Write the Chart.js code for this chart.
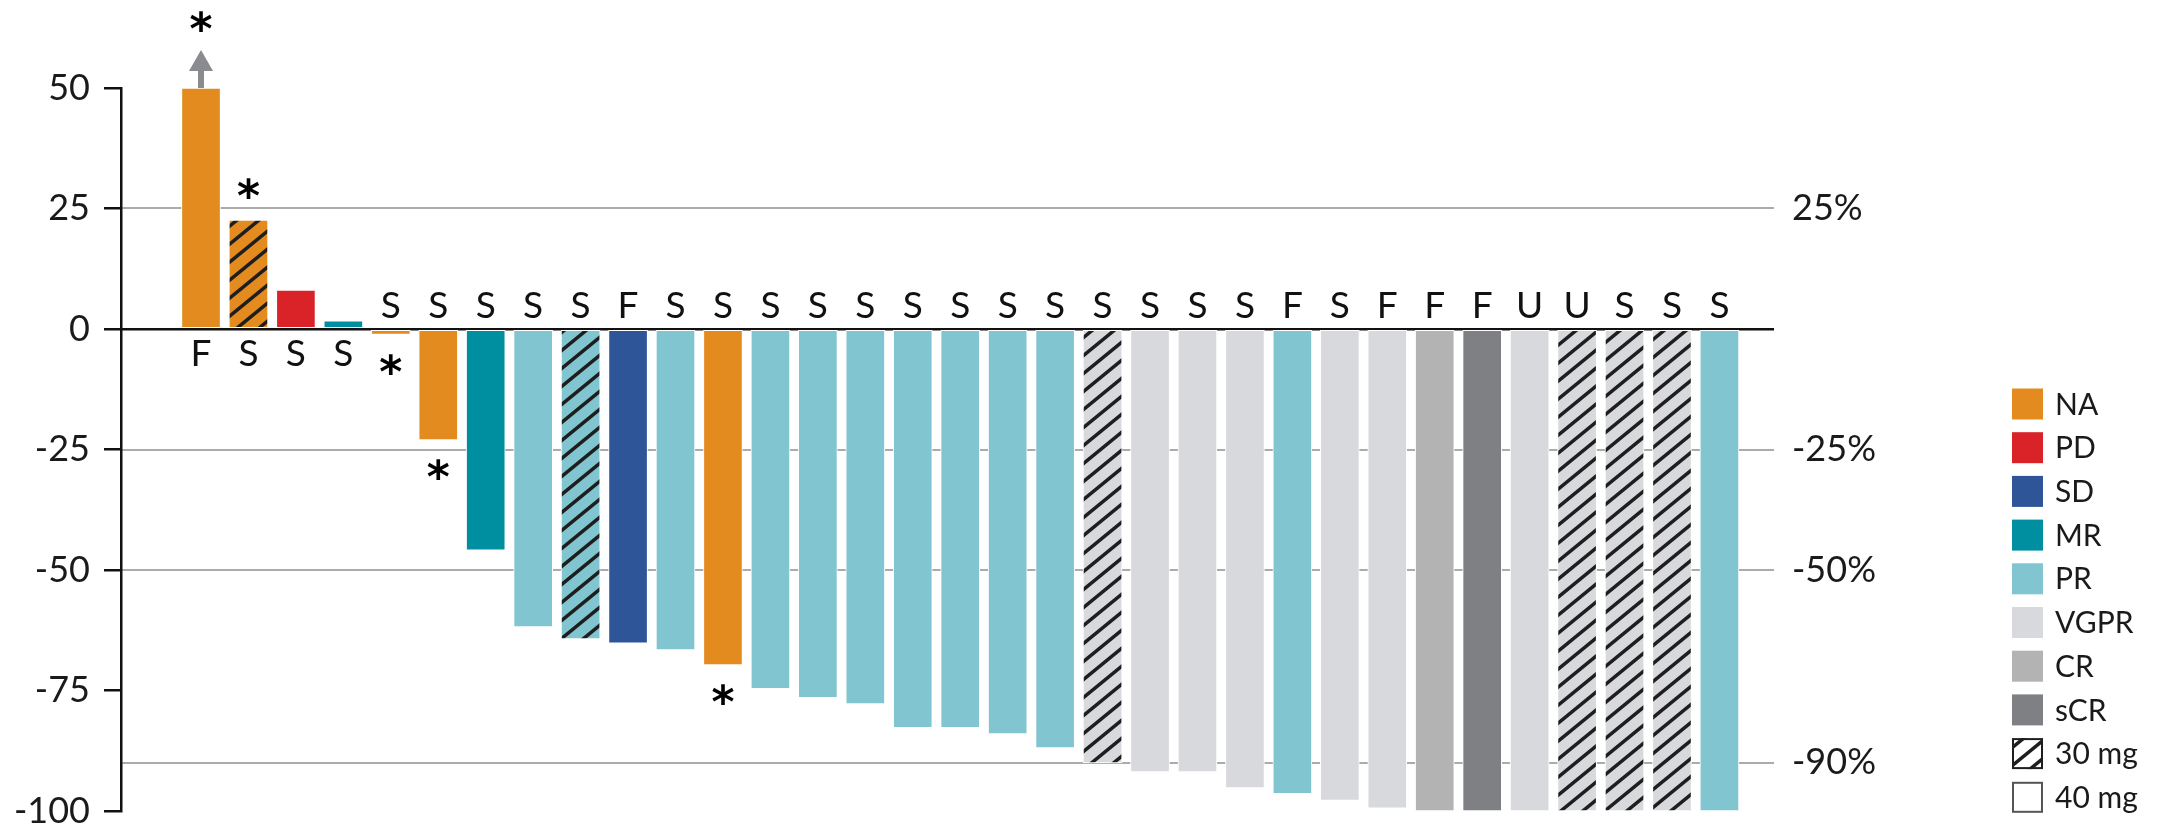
<!DOCTYPE html>
<html>
<head>
<meta charset="utf-8">
<script src="https://cdn.jsdelivr.net/npm/chart.js@4.4.1/dist/chart.umd.min.js"></script>
<style>
  html, body { margin: 0; padding: 0; background: #fff; overflow: hidden; }
  #wrap { width: 2169px; height: 823px; position: relative; }
</style>
</head>
<body>
<div id="wrap"><canvas id="chart" width="2169" height="823"></canvas></div>
<script>
// Best change from baseline (%) per patient, ordered as a waterfall
const changes = [50, 22.6, 8.1, 1.7, -1.1, -23, -45.9, -61.8, -64.3, -65.2, -66.6, -69.7,
  -74.6, -76.5, -77.8, -82.7, -82.7, -84, -86.9, -90, -91.9, -91.9, -95.2, -96.4, -97.8,
  -99.4, -100, -100, -100, -100, -100, -100, -100];
// Best response category per patient
const responses = ['NA', 'NA', 'PD', 'MR', 'NA', 'NA', 'MR', 'PR', 'PR', 'SD', 'PR', 'NA',
  'PR', 'PR', 'PR', 'PR', 'PR', 'PR', 'PR', 'VGPR', 'VGPR', 'VGPR', 'VGPR', 'PR', 'VGPR',
  'VGPR', 'CR', 'sCR', 'VGPR', 'VGPR', 'VGPR', 'VGPR', 'PR'];
// Dose level (mg)
const doses = [40, 30, 40, 40, 40, 40, 40, 40, 30, 40, 40, 40, 40, 40, 40, 40, 40, 40, 40,
  30, 40, 40, 40, 40, 40, 40, 40, 40, 40, 30, 30, 30, 40];
// Letter code shown at each bar
const statusLabels = ['F', 'S', 'S', 'S', 'S', 'S', 'S', 'S', 'S', 'F', 'S', 'S', 'S', 'S',
  'S', 'S', 'S', 'S', 'S', 'S', 'S', 'S', 'S', 'F', 'S', 'F', 'F', 'F', 'U', 'U', 'S', 'S', 'S'];
// Bars flagged with an asterisk
const starred = [1, 1, 0, 0, 1, 1, 0, 0, 0, 0, 0, 1, 0, 0, 0, 0, 0, 0, 0, 0, 0, 0, 0, 0, 0,
  0, 0, 0, 0, 0, 0, 0, 0];
// Bars whose value runs past the top of the axis
const offScale = [1, 0, 0, 0, 0, 0, 0, 0, 0, 0, 0, 0, 0, 0, 0, 0, 0, 0, 0, 0, 0, 0, 0, 0, 0,
  0, 0, 0, 0, 0, 0, 0, 0];

const leftTicks = [50, 25, 0, -25, -50, -75, -100];
const rightTicks = [25, 0, -25, -50, -90];

const responseKeys = ['NA', 'PD', 'SD', 'MR', 'PR', 'VGPR', 'CR', 'sCR'];
const responseColors = ['#E38B1E', '#D92329', '#2E5597', '#008FA1', '#80C5CF', '#D8D9DC', '#B3B3B3', '#7F8084'];
const doseKeys = ['30 mg', '40 mg'];

const FONT = 'Lato, "Open Sans", sans-serif';
const INK = '#1a1a1a';

function colorOf(resp) { return responseColors[responseKeys.indexOf(resp)]; }

// Diagonal stripe fill used for the 30 mg cohort
function hatch(bg) {
  const w = 22, h = 18;
  const c = document.createElement('canvas');
  c.width = w; c.height = h;
  const g = c.getContext('2d');
  g.fillStyle = bg;
  g.fillRect(0, 0, w, h);
  g.strokeStyle = '#1e1e1e';
  g.lineWidth = 3.5;
  g.beginPath();
  for (let k = -1; k <= 1; k++) {
    g.moveTo(-w, (k + 2) * h);
    g.lineTo(2 * w, (k - 1) * h);
  }
  g.stroke();
  return g.createPattern(c, 'repeat');
}

const barFills = changes.map((v, i) => doses[i] === 30 ? hatch(colorOf(responses[i])) : colorOf(responses[i]));

// Letter codes, asterisks and the off-scale arrow
const annotate = {
  id: 'annotate',
  afterDatasetsDraw(chart) {
    const ctx = chart.ctx;
    const bars = chart.getDatasetMeta(0).data;
    ctx.save();
    ctx.textAlign = 'center';
    ctx.textBaseline = 'alphabetic';
    ctx.fillStyle = '#111';
    ctx.font = '400 37px ' + FONT;
    bars.forEach((bar, i) => {
      if (changes[i] >= 0) ctx.fillText(statusLabels[i], bar.x, bar.base + 38);
      else ctx.fillText(statusLabels[i], bar.x, bar.base - 12);
    });

    ctx.fillStyle = '#8a8b8e';
    bars.forEach((bar, i) => {
      if (!offScale[i]) return;
      ctx.fillRect(bar.x - 3, bar.y - 19, 6, 19);
      ctx.beginPath();
      ctx.moveTo(bar.x, bar.y - 38);
      ctx.lineTo(bar.x + 12, bar.y - 17);
      ctx.lineTo(bar.x - 12, bar.y - 17);
      ctx.closePath();
      ctx.fill();
    });

    ctx.fillStyle = '#000';
    ctx.font = 'bold 44px "DejaVu Sans", sans-serif';
    const m = ctx.measureText('*');
    const mid = (m.actualBoundingBoxAscent - m.actualBoundingBoxDescent) / 2;
    bars.forEach((bar, i) => {
      if (!starred[i]) return;
      let cy;
      if (offScale[i]) cy = bar.y - 67;
      else if (changes[i] >= 0) cy = bar.y - 32;
      else cy = bar.y + 30;
      ctx.fillText('*', bar.x, cy + mid);
    });
    ctx.restore();
  }
};

// Response / dose key at the right
const keyBox = {
  id: 'keyBox',
  afterDraw(chart) {
    const ctx = chart.ctx;
    const x0 = chart.chartArea.right + 238;
    const top = 388.5, step = 43.7, box = 31;
    ctx.save();
    ctx.font = '400 30px ' + FONT;
    ctx.textAlign = 'left';
    ctx.textBaseline = 'middle';
    const items = responseKeys.map((k, i) => ({ label: k, color: responseColors[i] }))
      .concat(doseKeys.map(k => ({ label: k, dose: k })));
    items.forEach((it, i) => {
      const y = top + i * step;
      if (it.dose) {
        ctx.fillStyle = it.dose === '30 mg' ? hatch('#ffffff') : '#ffffff';
        ctx.fillRect(x0, y, box, box);
        ctx.strokeStyle = it.dose === '30 mg' ? '#1e1e1e' : '#555';
        ctx.lineWidth = 2;
        ctx.strokeRect(x0 + 1, y + 1, box - 2, box - 2);
      } else {
        ctx.fillStyle = it.color;
        ctx.fillRect(x0, y, box, box);
      }
      ctx.fillStyle = INK;
      ctx.fillText(it.label, x0 + 43, y + box / 2 + 1);
    });
    ctx.restore();
  }
};

const tickFont = { family: FONT, size: 36, weight: 400, lineHeight: 0.7 };

new Chart(document.getElementById('chart'), {
  type: 'bar',
  data: {
    datasets: [{
      data: changes.map((v, i) => ({ x: i + 1, y: v })),
      backgroundColor: barFills,
      borderColor: '#ffffff',
      borderWidth: 1,
      borderSkipped: false,
      barThickness: 39,
      xAxisID: 'x',
      yAxisID: 'y'
    }]
  },
  options: {
    responsive: false,
    devicePixelRatio: 1,
    animation: false,
    layout: { padding: { top: 88, bottom: 12, left: 0, right: 195 } },
    plugins: { legend: { display: false }, tooltip: { enabled: false } },
    scales: {
      x: {
        type: 'linear', min: -0.686, max: 34.15, offset: false, display: false
      },
      y: {
        position: 'left', min: -100, max: 50,
        afterBuildTicks: s => { s.ticks = leftTicks.map(v => ({ value: v })); },
        border: { display: true, color: '#111', width: 2.5 },
        grid: { drawOnChartArea: false, drawTicks: true, tickLength: 17, color: '#111', lineWidth: 2.5 },
        ticks: { padding: 14, color: INK, font: tickFont },
        afterFit: s => { s.width = 121; s.paddingTop = 0; s.paddingBottom = 0; }
      },
      y2: {
        position: 'right', min: -100, max: 50,
        afterBuildTicks: s => { s.ticks = rightTicks.map(v => ({ value: v })); },
        border: { display: false },
        grid: {
          drawOnChartArea: true, drawTicks: false,
          color: c => (c.tick && c.tick.value === 0) ? '#111' : '#ababab',
          lineWidth: c => (c.tick && c.tick.value === 0) ? 2.5 : 2
        },
        ticks: { padding: 18, color: INK, font: tickFont, callback: v => v === 0 ? '' : v + '%' },
        afterFit: s => { s.width = 200; s.paddingTop = 0; s.paddingBottom = 0; }
      }
    }
  },
  plugins: [annotate, keyBox]
});
</script>
</body>
</html>
